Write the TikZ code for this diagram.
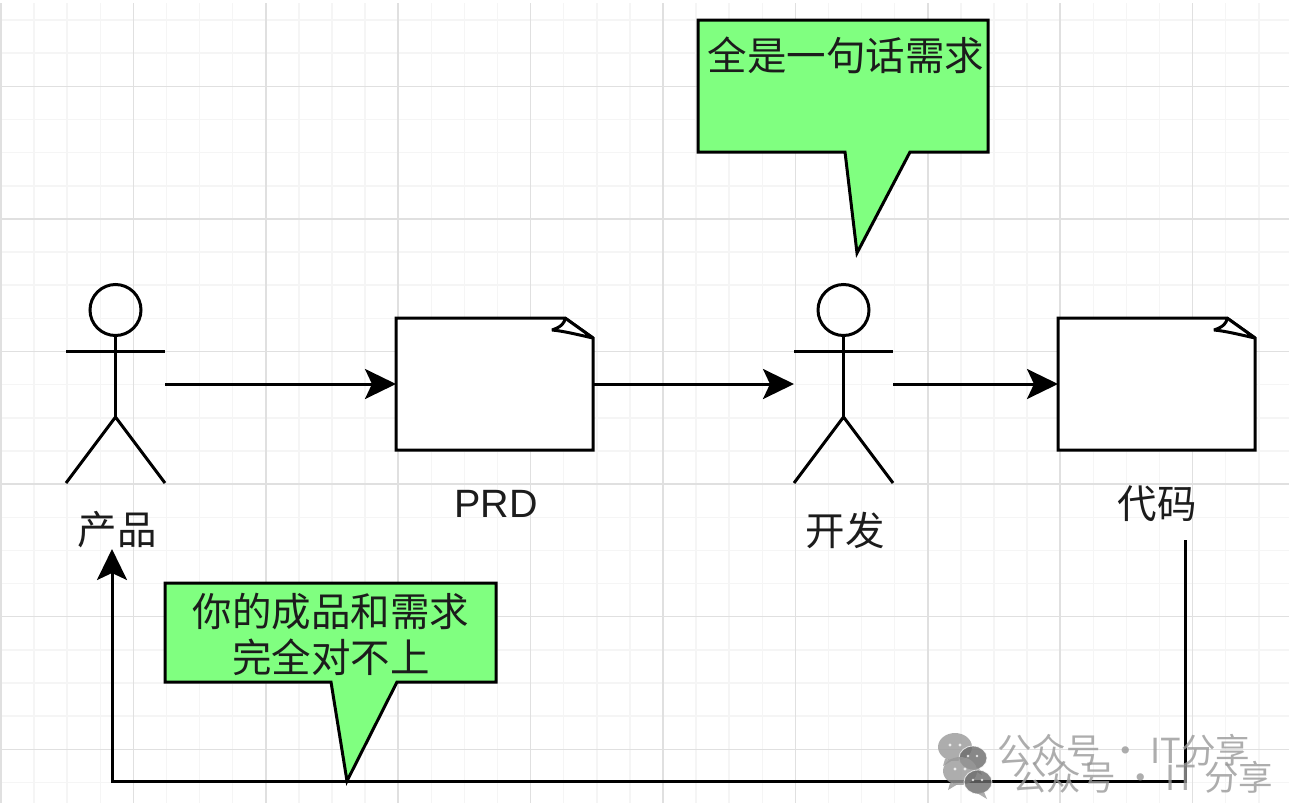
\documentclass[tikz,border=0pt]{standalone}
\usepackage{fontspec}
\setmainfont{Liberation Sans}
\newfontfamily\cjk{Noto Sans CJK SC}
\usetikzlibrary{arrows.meta,calc}
\definecolor{mintfill}{HTML}{80FF80}
\definecolor{gridmajor}{HTML}{E0E0E0}
\definecolor{gridminor}{HTML}{F5F5F5}
\definecolor{markgray}{HTML}{999999}
\definecolor{labelink}{HTML}{1C1C1C}
\tikzset{
  x=1pt,y=-1pt,
  ink/.style={line width=3pt,black,line join=miter},
  flow/.style={ink,-{Stealth[length=31pt,width=30pt,inset=7pt]}},
  actorbox/.style={minimum width=99pt,minimum height=199pt,inner sep=0pt,outer sep=0pt},
  docbox/.style={minimum width=197pt,minimum height=132pt,inner sep=0pt,outer sep=0pt},
  caption/.style={font=\cjk\fontsize{39.5}{46}\selectfont,text=labelink,inner sep=0pt,align=center},
  latin/.style={font=\fontsize{39.5}{44}\selectfont,text=labelink,inner sep=0pt},
  bubble/.style={ink,fill=mintfill},
  wm/.style={font=\cjk\fontsize{34.5}{40}\selectfont,text=markgray,inner sep=0pt,anchor=west},
}
\newcommand{\stickman}[1]{%
  \draw[ink] ($(#1.north)+(0,26)$) circle[radius=25.5];
  \draw[ink] ($(#1.north)+(0,51)$) -- ($(#1.north)+(0,133)$);
  \draw[ink] ($(#1.north west)+(0,67)$) -- ($(#1.north east)+(0,67)$);
  \draw[ink] (#1.south west) -- ($(#1.north)+(0,133)$) -- (#1.south east);
}
% sheet outline with its dog-eared top right corner
\newcommand{\sheet}[1]{%
  \draw[ink,fill=white] (#1.north west) -- ($(#1.north east)+(-28,0)$) -- ($(#1.north east)+(0,20)$)
    -- (#1.south east) -- (#1.south west) -- cycle;
  \draw[ink,fill=white,line join=bevel] ($(#1.north east)+(-28,0)$) -- ($(#1.north east)+(0,20)$)
    .. controls ($(#1.north east)+(-18,16)$) and ($(#1.north east)+(-30,13)$) .. ($(#1.north east)+(-41,12)$)
    .. controls ($(#1.north east)+(-32,9)$) and ($(#1.north east)+(-28,5)$) .. cycle;
}
\newcommand{\wechatmark}[2]{%
  \fill[markgray] (#1-8,#2-10) ellipse[x radius=17,y radius=14];
  \fill[markgray] (#1-18,#2+2) -- (#1-20,#2+9) -- (#1-10,#2+3) -- cycle;
  \fill[markgray!70!black,draw=white,line width=.8pt] (#1+10,#2+1) ellipse[x radius=14,y radius=12];
  \fill[markgray] (#1+16,#2+11) -- (#1+19,#2+18) -- (#1+9,#2+12) -- cycle;
  \fill[white] (#1-13,#2-12) circle[radius=1.6] (#1-3,#2-12) circle[radius=1.6]
    (#1+5,#2-1) circle[radius=1.3] (#1+14,#2-1) circle[radius=1.3];
}
\begin{document}
\begin{tikzpicture}
\useasboundingbox (0,0) rectangle (1289,803);
\fill[white] (0,0) rectangle (1289,803);

% paper grid
\begin{scope}
  \clip (0,3) rectangle (1289,803);
  \foreach \i in {0,...,39} {
    \pgfmathsetmacro{\gx}{1+33.1*\i}
    \draw[gridminor,line width=1.5pt] (\gx,0) -- (\gx,803);
  }
  \foreach \i in {0,...,24} {
    \pgfmathsetmacro{\gy}{20+33.15*\i}
    \draw[gridminor,line width=1.5pt] (0,\gy) -- (1289,\gy);
  }
  \foreach \i in {0,...,9} {
    \pgfmathsetmacro{\gx}{1+132.4*\i}
    \draw[gridmajor,line width=1.5pt] (\gx,0) -- (\gx,803);
  }
  \foreach \i in {0,...,5} {
    \pgfmathsetmacro{\gy}{86.3+132.6*\i}
    \draw[gridmajor,line width=1.5pt] (0,\gy) -- (1289,\gy);
  }
\end{scope}

% people and documents
\node[actorbox] (product) at (115.5,383.5) {};
\node[actorbox] (developer) at (843.5,383.5) {};
\node[docbox] (prd) at (494.5,384) {};
\node[docbox] (code) at (1156.5,384) {};
\stickman{product}
\stickman{developer}
\sheet{prd}
\sheet{code}

% labels
\node[caption] (productlabel) at (117,530) {产品};
\node[latin] (prdlabel) at (496,504) {PRD};
\node[caption] (devlabel) at (845,530) {开发};
\node[caption] (codelabel) at (1157,504) {代码};

% forward flow
\draw[flow] (product.east |- 0,384) -- (prd.west);
\draw[flow] (prd.east) -- (developer.west |- 0,384);
\draw[flow] (developer.east |- 0,384) -- (code.west);

% feedback loop
\coordinate (loopstart) at (1185,540);
\coordinate (loopcorner) at (1185,781);
\coordinate (loopleft) at (112,781);
\coordinate (looptip) at (112,549);
\draw[flow] (loopstart) -- (loopcorner) -- (loopleft) -- (looptip);

% speech bubbles
\draw[bubble] (698,20) -- (988,20) -- (988,152) -- (910,152) -- (857,253) -- (845,152) -- (698,152) -- cycle;
\node[caption] (talkone) at (846,55) {全是一句话需求};
\draw[bubble] (165,583) -- (496,583) -- (496,682) -- (397,682) -- (347,781) -- (331,682) -- (165,682) -- cycle;
\node[caption] (talktwo) at (331,634) {你的成品和需求\\完全对不上};

% publisher marks
\begin{scope}[opacity=.8]
  \wechatmark{963}{757}
  \wechatmark{968}{781}
  \node[wm] (markone) at (997,750) {公众号 · IT分享};
  \node[wm] (marktwo) at (1012,777) {公众号 · IT 分享};
\end{scope}
\end{tikzpicture}
\end{document}
